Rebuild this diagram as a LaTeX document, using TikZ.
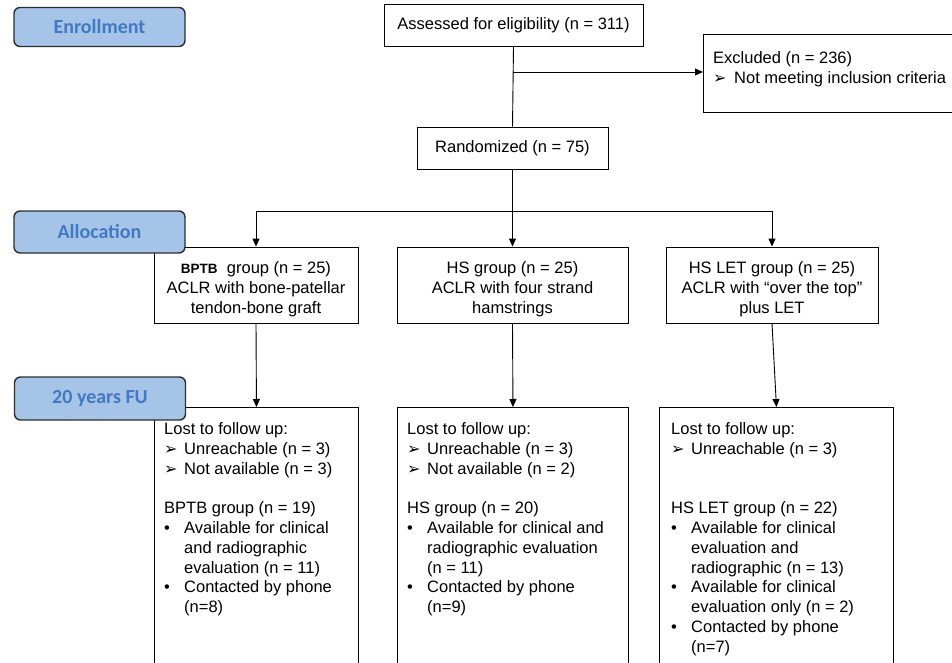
\documentclass[tikz,border=0pt]{standalone}
\usepackage{fontspec}
\setmainfont{Liberation Sans}
\newfontfamily\dvfont{DejaVu Sans}
\newfontfamily\labfont{Carlito}
\usetikzlibrary{arrows.meta}
\definecolor{labfill}{HTML}{A6C4E8}
\definecolor{labtext}{HTML}{4279C2}
\definecolor{labdraw}{HTML}{2E2E2E}
\newcommand{\arrg}{{\dvfont\fontsize{16}{16}\selectfont ➢}}
\newcommand{\arrb}{\makebox[20pt][l]{\arrg}}
\newcommand{\bulb}{\makebox[20pt][l]{•}}
\newcommand{\mline}[1]{\multicolumn{2}{@{}l@{}}{#1}}
\begin{document}
\begin{tikzpicture}[x=1pt,y=-1pt,
  box/.style={draw=black, line width=0.9pt, rectangle, inner sep=0pt},
  lab/.style={draw=labdraw, line width=1.4pt, fill=labfill, rounded corners=6pt,
    minimum width=171pt, minimum height=39pt, inner sep=0pt,
    font=\labfont\bfseries\fontsize{20}{22}\selectfont, text=labtext},
  arr/.style={line width=0.9pt, -{Triangle[length=8pt,width=7pt]}},
  lin/.style={line width=0.9pt},
  every node/.style={font=\fontsize{16.5}{19.8}\selectfont}
]
\useasboundingbox (0,0) rectangle (952,663);
\clip (0,0) rectangle (952,663);

% top flow
\node[box, minimum width=259pt, minimum height=42pt] (assess) at (513.5,25) {Assessed for eligibility (n = 311)};
\node[box, minimum width=275pt, minimum height=78pt, anchor=north west] (excl) at (703,34) {};
\node[anchor=base west, inner sep=0pt] (exclt) at (713,63.5) {\begin{tabular}[t]{@{}l@{}l@{}}\mline{Excluded (n = 236)}\\ \makebox[21pt][l]{\arrg} & Not meeting inclusion criteria\end{tabular}};
\node[box, minimum width=191pt, minimum height=42pt] (rand) at (512.5,148) {Randomized (n = 75)};

\coordinate (exsplit) at (513,72);
\draw[lin] (assess.south) -- (rand.north);
\draw[arr] (exsplit) -- (excl.west |- exsplit);

% allocation boxes
\node[box, minimum width=204pt, minimum height=76pt, align=center] (bptb) at (256,285)
  {\rule{0pt}{20pt}{\fontsize{13.5}{15}\selectfont\bfseries BPTB}\ \ group (n = 25)\\ACLR with bone-patellar\\tendon-bone graft};
\node[box, minimum width=231pt, minimum height=76pt, align=center] (hs) at (512.5,285)
  {\rule{0pt}{20pt}HS group (n = 25)\\ACLR with four strand\\hamstrings};
\node[box, minimum width=212pt, minimum height=76pt, align=center] (hslet) at (772,285)
  {\rule{0pt}{20pt}HS LET group (n = 25)\\ACLR with “over the top”\\plus LET};

\coordinate (split) at (512.5,211);
\draw[arr] (rand.south) -- (hs.north);
\draw[arr] (split) -| (bptb.north);
\draw[arr] (split) -| (hslet.north);

% follow-up boxes
\node[box, minimum width=204pt, minimum height=300pt, anchor=north west] (fu1) at (154,407) {};
\node[box, minimum width=231pt, minimum height=300pt, anchor=north west] (fu2) at (397,407) {};
\node[box, minimum width=234pt, minimum height=300pt, anchor=north west] (fu3) at (659,407) {};

\draw[arr] (bptb.south) -- (fu1.north);
\draw[arr] (hs.south) -- (fu2.north);
\draw[arr] (hslet.south) -- (fu3.north);

\node[anchor=base west, inner sep=0pt] (fu1t) at (164,434.5) {\begin{tabular}[t]{@{}l@{}l@{}}
\mline{Lost to follow up:}\\
\arrb & Unreachable (n = 3)\\
\arrb & Not available (n = 3)\\
 & \\
\mline{BPTB group (n = 19)}\\
\bulb & Available for clinical\\
 & and radiographic\\
 & evaluation (n = 11)\\
\bulb & Contacted by phone\\
 & (n=8)
\end{tabular}};

\node[anchor=base west, inner sep=0pt] (fu2t) at (407,434.5) {\begin{tabular}[t]{@{}l@{}l@{}}
\mline{Lost to follow up:}\\
\arrb & Unreachable (n = 3)\\
\arrb & Not available (n = 2)\\
 & \\
\mline{HS group (n = 20)}\\
\bulb & Available for clinical and\\
 & radiographic evaluation\\
 & (n = 11)\\
\bulb & Contacted by phone\\
 & (n=9)
\end{tabular}};

\node[anchor=base west, inner sep=0pt] (fu3t) at (671,434.5) {\begin{tabular}[t]{@{}l@{}l@{}}
\mline{Lost to follow up:}\\
\arrb & Unreachable (n = 3)\\
 & \\
 & \\
\mline{HS LET group (n = 22)}\\
\bulb & Available for clinical\\
 & evaluation and\\
 & radiographic (n = 13)\\
\bulb & Available for clinical\\
 & evaluation only (n = 2)\\
\bulb & Contacted by phone\\
 & (n=7)
\end{tabular}};

% stage labels (drawn last, on top)
\node[lab] (enroll) at (99.5,27) {Enrollment};
\node[lab, minimum height=42pt] (alloc) at (99.5,232) {Allocation};
\node[lab, minimum height=43pt] (fu) at (100,398.5) {20 years FU};
\end{tikzpicture}
\end{document}
